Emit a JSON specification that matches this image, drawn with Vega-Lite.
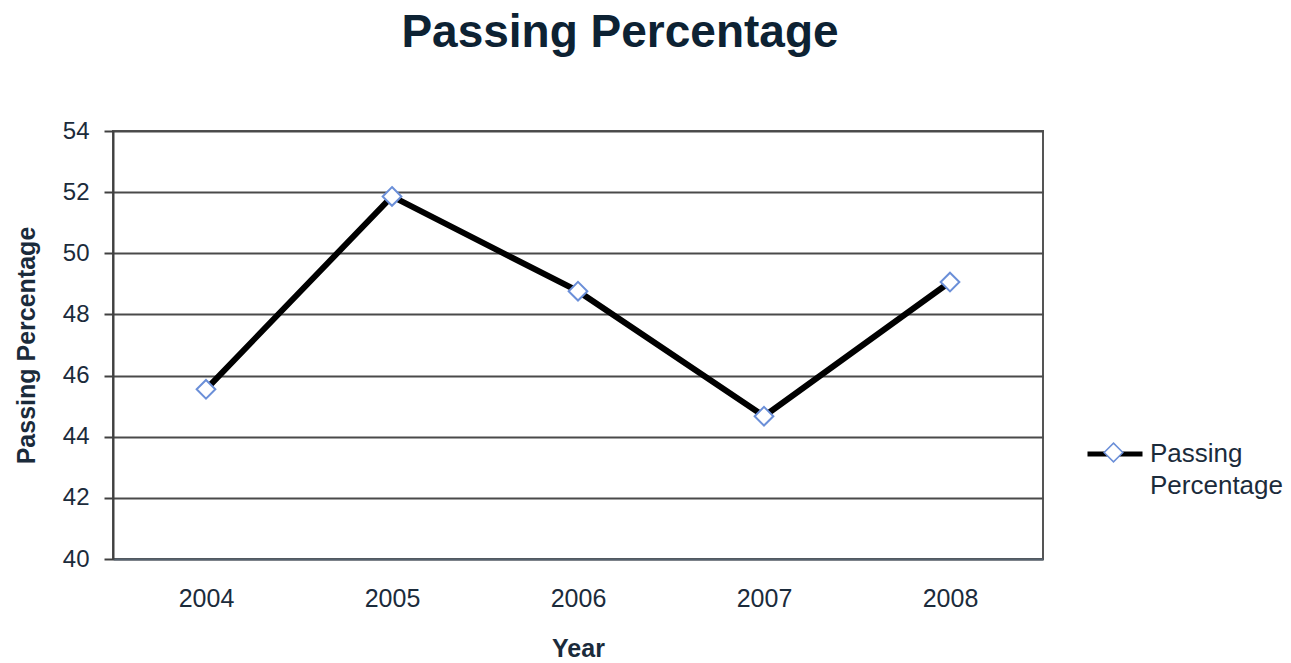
{
  "$schema": "https://vega.github.io/schema/vega-lite/v6.json",
  "width": 930,
  "height": 428,
  "autosize": {"type": "none"},
  "padding": {"left": 113, "top": 131, "right": 248, "bottom": 104},
  "background": "white",
  "title": {
    "text": "Passing Percentage",
    "font": "Liberation Sans",
    "fontSize": 46,
    "fontWeight": "bold",
    "color": "#0d2233",
    "anchor": "middle",
    "dx": 42,
    "offset": 62
  },
  "data": {
    "values": [
      {"Year": "2004", "value": 45.55, "series": "Passing Percentage"},
      {"Year": "2005", "value": 51.86, "series": "Passing Percentage"},
      {"Year": "2006", "value": 48.76, "series": "Passing Percentage"},
      {"Year": "2007", "value": 44.67, "series": "Passing Percentage"},
      {"Year": "2008", "value": 49.06, "series": "Passing Percentage"}
    ]
  },
  "encoding": {
    "x": {
      "field": "Year",
      "type": "ordinal",
      "scale": {"type": "point", "padding": 0.5},
      "axis": {
        "title": "Year",
        "labelAngle": 0,
        "labelFontSize": 25,
        "labelFont": "Liberation Sans",
        "labelColor": "#1b2b3b",
        "labelPadding": 27,
        "ticks": false,
        "tickSize": 0,
        "domainColor": "#566370",
        "domainWidth": 2,
        "grid": false,
        "titleFont": "Liberation Sans",
        "titleFontSize": 25,
        "titleFontWeight": "bold",
        "titleColor": "#1b2b3b",
        "titlePadding": 25
      }
    },
    "y": {
      "field": "value",
      "type": "quantitative",
      "scale": {"domain": [40, 54], "nice": false, "zero": false},
      "axis": {
        "title": "Passing Percentage",
        "values": [40, 42, 44, 46, 48, 50, 52, 54],
        "labelFontSize": 24,
        "labelFont": "Liberation Sans",
        "labelColor": "#1b2b3b",
        "labelPadding": 15,
        "tickSize": 9,
        "tickColor": "#404040",
        "tickWidth": 2,
        "domainColor": "#404040",
        "domainWidth": 2,
        "grid": true,
        "gridColor": "#4a4a4a",
        "gridWidth": 2,
        "titleFont": "Liberation Sans",
        "titleFontSize": 25,
        "titleFontWeight": "bold",
        "titleColor": "#1b2b3b",
        "titlePadding": 23
      }
    }
  },
  "layer": [
    {
      "mark": {"type": "line", "strokeWidth": 6},
      "encoding": {
        "stroke": {
          "field": "series",
          "type": "nominal",
          "scale": {"range": ["black"]},
          "legend": {
            "title": null,
            "orient": "none",
            "legendX": 972,
            "legendY": 293,
            "symbolType": "stroke",
            "symbolSize": 3025,
            "symbolStrokeWidth": 5,
            "labelExpr": "['Passing', 'Percentage']",
            "labelFont": "Liberation Sans",
            "labelFontSize": 26,
            "labelColor": "#1b2b3b",
            "labelOffset": 5,
            "labelBaseline": "middle",
            "encode": {
              "labels": {"update": {"lineHeight": {"value": 32}}}
            }
          }
        }
      }
    },
    {
      "mark": {"type": "point", "filled": true, "fill": "white", "stroke": "#6b8fd8", "strokeWidth": 2, "size": 3025, "opacity": 1},
      "encoding": {
        "shape": {
          "datum": "Passing Percentage",
          "scale": {"range": ["M0,-0.34L0.34,0L0,0.34L-0.34,0Z"]},
          "legend": {
            "title": null,
            "orient": "none",
            "legendX": 972,
            "legendY": 293,
            "symbolSize": 3025,
            "labelExpr": "''",
            "labelFontSize": 26,
            "labelOffset": 5,
            "encode": {
              "symbols": {"update": {"fill": {"value": "white"}, "stroke": {"value": "#6b8fd8"}, "strokeWidth": {"value": 2}, "opacity": {"value": 1}}}
            }
          }
        }
      }
    }
  ],
  "config": {
    "view": {"stroke": "#555555", "strokeWidth": 2},
    "legend": {"padding": 0}
  }
}
